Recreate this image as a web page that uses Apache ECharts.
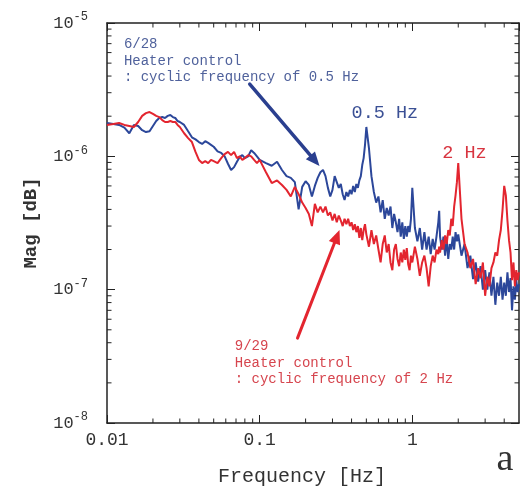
<!DOCTYPE html>
<html>
<head>
<meta charset="utf-8">
<script src="https://cdn.jsdelivr.net/npm/echarts@6/dist/echarts.min.js"></script>
<style>
  html, body { margin: 0; padding: 0; background: #fff; }
  #chart { width: 521px; height: 493px; }
</style>
</head>
<body>
<div id="chart"></div>
<script>
// Frequency grid [Hz] shared by both spectra
const freq = [
  0.010, 0.011, 0.012, 0.013, 0.014, 0.015, 0.016, 0.017, 0.018, 0.019,
  0.020, 0.021, 0.022, 0.023, 0.024, 0.025, 0.026, 0.027, 0.028, 0.029,
  0.030, 0.032, 0.034, 0.036, 0.038, 0.040, 0.042, 0.044, 0.046, 0.048,
  0.050, 0.053, 0.056, 0.059, 0.062, 0.065, 0.068, 0.071, 0.074, 0.077,
  0.080, 0.084, 0.088, 0.092, 0.096,
  0.10, 0.11, 0.12, 0.13, 0.14, 0.15, 0.16, 0.17, 0.18, 0.19,
  0.20, 0.21, 0.22, 0.23, 0.24, 0.25, 0.26, 0.27, 0.28, 0.29,
  0.30, 0.31, 0.32, 0.33, 0.34, 0.35, 0.36, 0.37, 0.38, 0.39,
  0.40, 0.41, 0.42, 0.43, 0.44, 0.45, 0.46, 0.47, 0.48, 0.49,
  0.50, 0.52, 0.54, 0.56, 0.58, 0.60, 0.62, 0.64, 0.66, 0.68,
  0.70, 0.72, 0.74, 0.76, 0.78, 0.80, 0.82, 0.84, 0.86, 0.88,
  0.90, 0.92, 0.94, 0.96, 0.98,
  1.00, 1.04, 1.08, 1.12, 1.16, 1.20, 1.24, 1.28, 1.32, 1.36, 1.40, 1.44, 1.48,
  1.50,
  1.52, 1.56, 1.60, 1.64, 1.68, 1.72, 1.76, 1.80, 1.84, 1.88, 1.92, 1.96,
  2.0, 2.1, 2.2, 2.3, 2.4, 2.5, 2.6, 2.7, 2.8, 2.9,
  3.0, 3.1, 3.2, 3.3, 3.4, 3.5, 3.6, 3.7, 3.8, 3.9,
  4.0, 4.1, 4.2, 4.3, 4.4, 4.5, 4.6, 4.7, 4.8, 4.9, 5.0
];

// 6/28 run: heater cycled at 0.5 Hz
const magJun28 = [
  17.8e-7, 17.5e-7, 17.2e-7, 16.4e-7, 14.9e-7, 17.2e-7, 16.9e-7, 15.7e-7, 15.2e-7, 15.4e-7,
  16.9e-7, 18.4e-7, 19.4e-7, 19.7e-7, 19.4e-7, 20.1e-7, 20.4e-7, 19.7e-7, 19.4e-7, 18.4e-7,
  18.1e-7, 17.2e-7, 15.4e-7, 13.9e-7, 13.4e-7, 12.8e-7, 12.4e-7, 13.0e-7, 12.6e-7, 12.2e-7,
  11.8e-7, 10.9e-7, 10.6e-7, 10.0e-7, 8.8e-7, 7.9e-7, 8.3e-7, 9.1e-7, 9.9e-7, 10.2e-7,
  9.7e-7, 10.0e-7, 11.1e-7, 10.6e-7, 10.0e-7,
  9.4e-7, 8.9e-7, 8.5e-7, 9.1e-7, 7.9e-7, 7.1e-7, 6.9e-7, 6.4e-7, 4.0e-7, 5.9e-7,
  6.5e-7, 6.1e-7, 5.0e-7, 6.0e-7, 6.9e-7, 7.6e-7, 7.9e-7, 7.1e-7, 5.8e-7, 5.0e-7,
  5.6e-7, 7.1e-7, 6.4e-7, 5.8e-7, 6.2e-7, 5.2e-7, 4.7e-7, 5.4e-7, 5.0e-7, 5.6e-7,
  5.2e-7, 6.0e-7, 5.4e-7, 6.2e-7, 5.8e-7, 6.6e-7, 7.1e-7, 8.6e-7, 9.7e-7, 12.2e-7,
  16.6e-7, 11.5e-7, 7.1e-7, 5.4e-7, 4.5e-7, 5.0e-7, 3.8e-7, 4.7e-7, 3.4e-7, 4.1e-7,
  3.6e-7, 4.2e-7, 2.9e-7, 3.7e-7, 3.2e-7, 2.7e-7, 3.4e-7, 2.5e-7, 3.2e-7, 2.4e-7,
  3.0e-7, 2.5e-7, 3.0e-7, 2.7e-7, 3.4e-7,
  5.8e-7, 2.9e-7, 2.3e-7, 2.9e-7, 2.0e-7, 2.7e-7, 2.0e-7, 2.5e-7, 1.85e-7, 2.4e-7, 2.0e-7, 2.5e-7, 3.2e-7,
  3.9e-7,
  2.5e-7, 2.0e-7, 2.5e-7, 1.8e-7, 2.4e-7, 1.7e-7, 2.2e-7, 2.0e-7, 2.5e-7, 2.0e-7, 2.7e-7, 2.3e-7,
  2.6e-7, 1.8e-7, 2.2e-7, 1.45e-7, 1.8e-7, 1.2e-7, 1.6e-7, 1.15e-7, 1.5e-7, 1.0e-7,
  1.4e-7, 1.0e-7, 1.35e-7, 0.9e-7, 1.25e-7, 0.77e-7, 1.13e-7, 0.9e-7, 1.25e-7, 0.84e-7,
  1.13e-7, 0.9e-7, 1.35e-7, 0.96e-7, 1.22e-7, 0.7e-7, 1.06e-7, 0.84e-7, 1.18e-7, 0.96e-7, 1.1e-7
];

// 9/29 run: heater cycled at 2 Hz
const magSep29 = [
  17.2e-7, 17.5e-7, 17.8e-7, 17.2e-7, 16.9e-7, 16.6e-7, 18.1e-7, 20.1e-7, 21.1e-7, 21.5e-7,
  20.8e-7, 20.1e-7, 19.7e-7, 18.7e-7, 18.1e-7, 18.1e-7, 18.4e-7, 18.1e-7, 18.1e-7, 17.2e-7,
  16.6e-7, 14.9e-7, 13.7e-7, 12.8e-7, 10.8e-7, 9.4e-7, 8.9e-7, 9.2e-7, 8.9e-7, 9.4e-7,
  9.2e-7, 8.9e-7, 9.7e-7, 10.4e-7, 10.8e-7, 10.2e-7, 10.8e-7, 9.7e-7, 10.0e-7, 9.4e-7,
  9.7e-7, 10.2e-7, 10.0e-7, 9.4e-7, 8.9e-7,
  9.4e-7, 7.6e-7, 6.3e-7, 6.6e-7, 6.1e-7, 5.6e-7, 5.0e-7, 5.9e-7, 5.2e-7, 4.5e-7,
  4.1e-7, 3.7e-7, 3.0e-7, 4.4e-7, 3.8e-7, 4.2e-7, 3.8e-7, 4.2e-7, 3.6e-7, 3.8e-7,
  3.3e-7, 3.7e-7, 3.2e-7, 3.6e-7, 3.3e-7, 3.0e-7, 3.4e-7, 3.1e-7, 3.4e-7, 3.0e-7,
  3.2e-7, 2.8e-7, 3.1e-7, 2.7e-7, 3.0e-7, 2.45e-7, 2.9e-7, 2.35e-7, 2.8e-7, 3.1e-7,
  2.6e-7, 2.1e-7, 2.8e-7, 2.2e-7, 2.55e-7, 2.0e-7, 1.6e-7, 2.2e-7, 2.55e-7, 1.9e-7,
  2.2e-7, 1.6e-7, 1.4e-7, 2.0e-7, 2.2e-7, 1.7e-7, 1.5e-7, 1.9e-7, 1.6e-7, 2.0e-7,
  1.67e-7, 2.05e-7, 1.55e-7, 1.4e-7, 1.8e-7,
  1.6e-7, 2.1e-7, 1.7e-7, 1.27e-7, 1.6e-7, 1.8e-7, 1.45e-7, 1.06e-7, 1.5e-7, 1.8e-7, 1.6e-7, 2.0e-7, 1.85e-7,
  2.1e-7,
  1.9e-7, 2.35e-7, 2.0e-7, 2.55e-7, 2.2e-7, 2.8e-7, 2.55e-7, 3.4e-7, 3.0e-7, 4.2e-7, 5.1e-7, 6.4e-7,
  8.9e-7, 3.4e-7, 2.2e-7, 1.9e-7, 1.45e-7, 1.7e-7, 1.1e-7, 1.45e-7, 1.22e-7, 1.6e-7,
  0.9e-7, 1.25e-7, 1.06e-7, 1.45e-7, 1.6e-7, 1.9e-7, 1.8e-7, 2.35e-7, 2.8e-7, 3.95e-7,
  6.0e-7, 5.1e-7, 3.3e-7, 2.35e-7, 1.9e-7, 1.18e-7, 1.6e-7, 1.06e-7, 1.4e-7, 1.18e-7, 1.35e-7
];

// Axis ranges and tick labels
const freqRange = [0.01, 5];
const magRange = [1e-8, 1e-5];
const xTickValues = [0.01, 0.1, 1];
const xTickLabels = ['0.01', '0.1', '1'];
const minorMantissas = [2, 3, 4, 5, 6, 7, 8, 9];

// Annotation texts
const noteJun28 = ['6/28', 'Heater control', ': cyclic frequency of 0.5 Hz'];
const noteSep29 = ['9/29', 'Heater control', ': cyclic frequency of 2 Hz'];
const peakJun28 = '0.5 Hz';
const peakSep29 = '2 Hz';

// Annotation anchors, in data coordinates [Hz, Mag]
const anchors = {
  noteJun28: [0.0129, 7.85e-6],
  arrowJun28: [[0.0861, 3.48e-6], [0.2466, 8.46e-7]],
  peakJun28: [0.40, 2.1e-6],
  noteSep29: [0.0687, 4.26e-8],
  arrowSep29: [[0.177, 4.33e-8], [0.3335, 2.8e-7]],
  peakSep29: [1.57, 1.06e-6]
};

(function () {
  const BLUE = '#2c479a';
  const RED = '#e3252f';
  const MONO = '"Liberation Mono", "DejaVu Sans Mono", monospace';
  const AXIS = '#222';

  const chart = echarts.init(document.getElementById('chart'), null, { renderer: 'canvas' });

  function logAxis(extra) {
    return Object.assign({
      type: 'log',
      logBase: 10,
      axisLine: { show: true, onZero: false, lineStyle: { color: AXIS, width: 1.5 } },
      axisTick: { show: true, inside: true, length: 8, lineStyle: { color: AXIS, width: 1 } },
      splitLine: { show: false },
      minorTick: { show: false },
      minorSplitLine: { show: false }
    }, extra);
  }

  const xLabelFor = v => {
    const i = xTickValues.findIndex(t => Math.abs(Math.log10(t) - Math.log10(v)) < 1e-6);
    return i < 0 ? '' : xTickLabels[i];
  };

  chart.setOption({
    animation: false,
    backgroundColor: '#fff',
    grid: { left: 107, right: 2, top: 23, bottom: 70, containLabel: false },
    xAxis: [
      logAxis({
        position: 'bottom', min: freqRange[0], max: freqRange[1],
        name: 'Frequency [Hz]', nameLocation: 'middle', nameGap: 44,
        nameTextStyle: { fontFamily: MONO, fontSize: 20, color: '#333', padding: [0, 22, 0, 0] },
        axisLabel: { formatter: xLabelFor, fontFamily: MONO, fontSize: 18, color: '#333', margin: 8,
                     showMaxLabel: false }
      }),
      logAxis({
        position: 'top', min: freqRange[0], max: freqRange[1],
        axisLabel: { show: false }
      })
    ],
    yAxis: [
      logAxis({
        position: 'left', min: magRange[0], max: magRange[1],
        name: 'Mag [dB]', nameLocation: 'middle', nameGap: 66, nameRotate: 90,
        nameTextStyle: { fontFamily: MONO, fontSize: 19, color: '#333', fontWeight: 'bold' },
        axisLabel: {
          margin: 19,
          formatter: v => '{b|10}{s|' + Math.round(Math.log10(v)) + '}',
          rich: {
            b: { fontFamily: MONO, fontSize: 17, color: '#333' },
            s: { fontFamily: MONO, fontSize: 12, color: '#333', padding: [0, 0, 12, 0] }
          }
        }
      }),
      logAxis({
        position: 'right', min: magRange[0], max: magRange[1],
        axisLabel: { show: false }
      })
    ],
    series: [
      {
        name: '6/28', type: 'line', xAxisIndex: 0, yAxisIndex: 0,
        data: freq.map((f, i) => [f, magJun28[i]]),
        showSymbol: false, symbol: 'none',
        lineStyle: { color: BLUE, width: 2 }, itemStyle: { color: BLUE }, z: 2
      },
      {
        name: '9/29', type: 'line', xAxisIndex: 0, yAxisIndex: 0,
        data: freq.map((f, i) => [f, magSep29[i]]),
        showSymbol: false, symbol: 'none',
        lineStyle: { color: RED, width: 2 }, itemStyle: { color: RED }, z: 3
      }
    ]
  });

  // Decorations placed through the axes' own scales
  const px = p => chart.convertToPixel({ xAxisIndex: 0, yAxisIndex: 0 }, p);
  const xPx = v => chart.convertToPixel({ xAxisIndex: 0 }, v);
  const yPx = v => chart.convertToPixel({ yAxisIndex: 0 }, v);

  const plotLeft = xPx(freqRange[0]), plotRight = xPx(freqRange[1]);
  const plotBottom = yPx(magRange[0]), plotTop = yPx(magRange[1]);
  const graphics = [];
  const minorLen = 4.5;

  const tickLine = (x1, y1, x2, y2) => ({
    type: 'line', silent: true, z: 10,
    shape: { x1, y1, x2, y2 },
    style: { stroke: AXIS, lineWidth: 1 }
  });

  // log minor ticks along frequency (bottom and top)
  for (let d = -2; d <= 0; d++) {
    minorMantissas.forEach(m => {
      const v = m * Math.pow(10, d);
      if (v >= freqRange[1]) return;
      const x = xPx(v);
      graphics.push(tickLine(x, plotBottom, x, plotBottom - minorLen));
      graphics.push(tickLine(x, plotTop, x, plotTop + minorLen));
    });
  }
  // log minor ticks along magnitude (left and right)
  for (let d = -8; d <= -6; d++) {
    minorMantissas.forEach(m => {
      const y = yPx(m * Math.pow(10, d));
      graphics.push(tickLine(plotLeft, y, plotLeft + minorLen, y));
      graphics.push(tickLine(plotRight, y, plotRight - minorLen, y));
    });
  }

  function arrow(from, to, color, width, headLen, headHalf) {
    const a = px(from), b = px(to);
    const dx = b[0] - a[0], dy = b[1] - a[1];
    const len = Math.hypot(dx, dy);
    const ux = dx / len, uy = dy / len;
    const bx = b[0] - ux * headLen, by = b[1] - uy * headLen;
    graphics.push({
      type: 'line', silent: true, z: 20,
      shape: { x1: a[0], y1: a[1], x2: bx + ux * 2, y2: by + uy * 2 },
      style: { stroke: color, lineWidth: width, lineCap: 'round' }
    });
    graphics.push({
      type: 'polygon', silent: true, z: 20,
      shape: { points: [[b[0], b[1]], [bx - uy * headHalf, by + ux * headHalf], [bx + uy * headHalf, by - ux * headHalf]] },
      style: { fill: color }
    });
  }

  function note(lines, anchor, color) {
    const p = px(anchor);
    lines.forEach((t, i) => {
      graphics.push({
        type: 'text', silent: true, z: 20,
        style: { text: t, x: p[0], y: p[1] + i * 16.8, fill: color,
                 font: '14px ' + MONO, textAlign: 'left', textVerticalAlign: 'top' }
      });
    });
  }

  function label(text, anchor, color) {
    const p = px(anchor);
    graphics.push({
      type: 'text', silent: true, z: 20,
      style: { text, x: p[0], y: p[1], fill: color, font: '18.5px ' + MONO,
               textAlign: 'left', textVerticalAlign: 'middle' }
    });
  }

  note(noteJun28, anchors.noteJun28, '#50629c');
  arrow(anchors.arrowJun28[0], anchors.arrowJun28[1], '#2a3f8f', 3.5, 14, 6);
  label(peakJun28, anchors.peakJun28, '#3b5095');
  note(noteSep29, anchors.noteSep29, '#d6454e');
  arrow(anchors.arrowSep29[0], anchors.arrowSep29[1], RED, 3, 14, 6);
  label(peakSep29, anchors.peakSep29, '#d83540');

  // panel letter
  graphics.push({
    type: 'text', silent: true, z: 20,
    style: { text: 'a', x: 505, y: 460, fill: '#333', font: '38px "Liberation Serif", serif',
             textAlign: 'center', textVerticalAlign: 'middle' }
  });

  chart.setOption({ graphic: graphics });
})();
</script>
</body>
</html>
